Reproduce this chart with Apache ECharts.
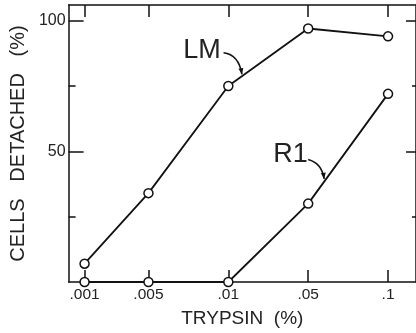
<!DOCTYPE html>
<html>
<head>
<meta charset="utf-8">
<script src="https://cdn.jsdelivr.net/npm/echarts@6/dist/echarts.min.js"></script>
<style>
  html, body { margin: 0; padding: 0; background: #fff; }
  #main { width: 416px; height: 333px; }
</style>
</head>
<body>
<div id="main"></div>
<script>
// trypsin concentrations and where each sits along the x axis
const categories = ['.001', '.005', '.01', '.05', '.1'];
const xPos = [0.2, 1, 2, 3, 4];

const lmValues = [7, 34, 75, 97, 94];
const r1Values = [0, 0, 0, 30, 72];

const yMajorTicks = [50, 100];
const yMinorTicks = [25, 75];

const ink = '#111';
const font = 'Liberation Sans, Arial, sans-serif';

function pairs(values) {
  return values.map(function (v, i) { return [xPos[i], v]; });
}

function yAxis(position, ticks, len, showLine, showLabel) {
  return {
    type: 'value', position: position, min: 0, max: 106,
    axisLine: { show: showLine, onZero: false, lineStyle: { color: ink, width: 1.5 } },
    axisTick: { show: true, inside: true, length: len, customValues: ticks, lineStyle: { color: ink, width: 1.5 } },
    axisLabel: { show: showLabel, customValues: ticks, margin: 3, color: '#222', fontSize: 16, fontFamily: font },
    splitLine: { show: false }
  };
}

function xAxis(position, showLabel) {
  return {
    type: 'value', position: position, min: 0, max: 4.35,
    axisLine: { show: true, onZero: false, lineStyle: { color: ink, width: 1.5 } },
    axisTick: { show: true, inside: true, length: 12, customValues: xPos, lineStyle: { color: ink, width: 1.5 } },
    axisLabel: {
      show: showLabel, customValues: xPos, margin: 5, color: '#222', fontSize: 15.5, fontFamily: font,
      formatter: function (v) {
        const i = xPos.findIndex(function (p) { return Math.abs(p - v) < 1e-6; });
        return i < 0 ? '' : categories[i];
      }
    },
    splitLine: { show: false }
  };
}

const chartDom = document.getElementById('main');
const myChart = echarts.init(chartDom);

const bottomAxis = xAxis('bottom', true);
bottomAxis.name = 'TRYPSIN  (%)';
bottomAxis.nameLocation = 'middle';
bottomAxis.nameGap = 27;
bottomAxis.nameTextStyle = { color: '#222', fontSize: 19, fontFamily: font };

const leftAxis = yAxis('left', yMajorTicks, 15, true, true);
leftAxis.name = 'CELLS   DETACHED   (%)';
leftAxis.nameLocation = 'middle';
leftAxis.nameGap = 37;
leftAxis.nameTextStyle = { color: '#222', fontSize: 20, fontFamily: font };

const lineSeries = function (name, values) {
  return {
    name: name, type: 'line', data: pairs(values), xAxisIndex: 0, yAxisIndex: 0,
    clip: false, symbol: 'circle', symbolSize: 9,
    lineStyle: { color: ink, width: 1.8 },
    itemStyle: { color: '#fff', borderColor: ink, borderWidth: 1.5 },
    z: 5
  };
};

let option = {
  animation: false,
  backgroundColor: '#fff',
  grid: { left: 66, top: 5, bottom: 50, right: -2 },
  xAxis: [bottomAxis, xAxis('top', false)],
  yAxis: [
    leftAxis,
    yAxis('left', yMinorTicks, 7, false, false),
    yAxis('right', yMajorTicks, 10, true, false),
    yAxis('right', yMinorTicks, 4, false, false)
  ],
  series: [lineSeries('LM', lmValues), lineSeries('R1', r1Values)]
};
option && myChart.setOption(option);

// series labels with curved arrows, anchored in data coordinates
const notes = [
  { text: 'LM', at: [1.67, 88.5], from: [1.94, 87.7], ctrl: [2.13, 87], to: [2.17, 79.5] },
  { text: 'R1', at: [2.78, 48.8], from: [3.0, 46.9], ctrl: [3.17, 45.5], to: [3.2, 39.5] }
];
const px = function (p) { return myChart.convertToPixel({ xAxisIndex: 0, yAxisIndex: 0 }, p); };
const graphics = [];
notes.forEach(function (n) {
  const c = px(n.at), a = px(n.from), k = px(n.ctrl), b = px(n.to);
  graphics.push({
    type: 'text', x: c[0], y: c[1],
    style: { text: n.text, fill: '#222', font: '27px ' + font, textAlign: 'center', textVerticalAlign: 'middle' }
  });
  graphics.push({
    type: 'bezierCurve',
    shape: { x1: a[0], y1: a[1], cpx1: k[0], cpy1: k[1], x2: b[0], y2: b[1] },
    style: { stroke: ink, lineWidth: 1.6, fill: null }
  });
  const dx = b[0] - k[0], dy = b[1] - k[1], len = Math.sqrt(dx * dx + dy * dy);
  const ux = dx / len, uy = dy / len;
  graphics.push({
    type: 'polygon',
    shape: { points: [[b[0], b[1]], [b[0] - ux * 6 - uy * 2.5, b[1] - uy * 6 + ux * 2.5], [b[0] - ux * 6 + uy * 2.5, b[1] - uy * 6 - ux * 2.5]] },
    style: { fill: ink }
  });
});
myChart.setOption({ graphic: graphics });
</script>
</body>
</html>
